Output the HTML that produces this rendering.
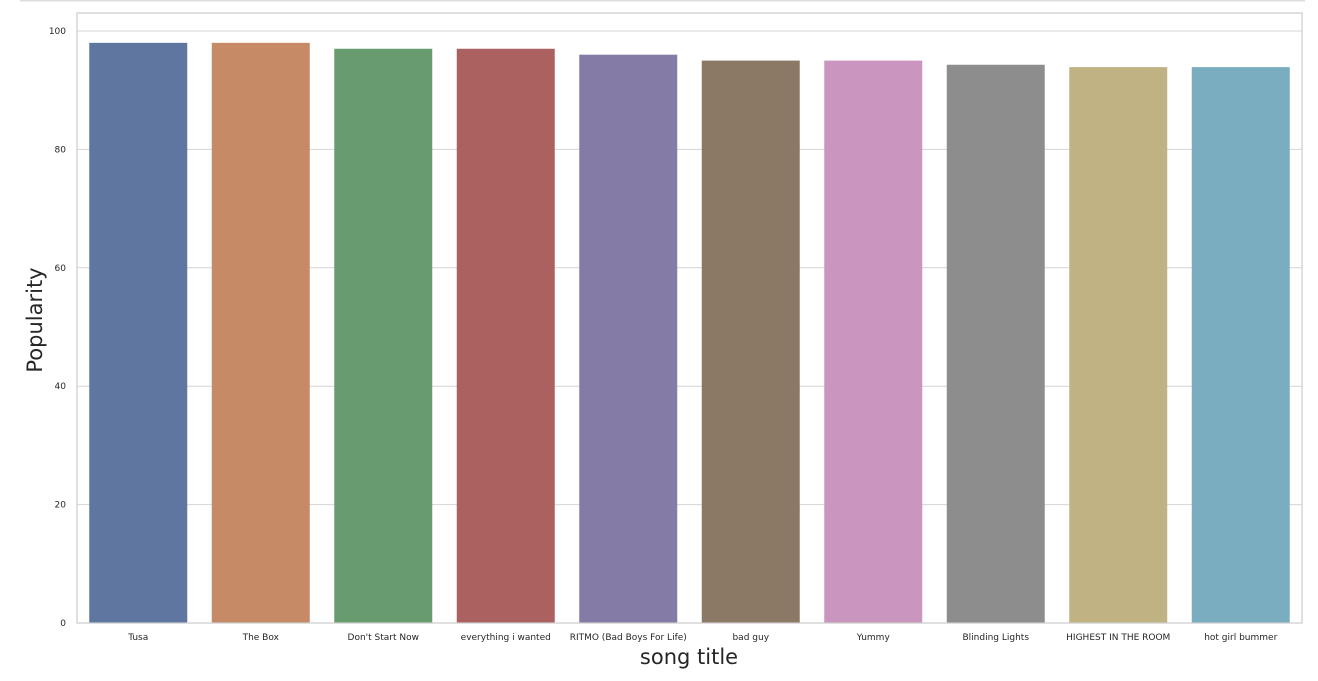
<!DOCTYPE html>
<html><head><meta charset="utf-8"><style>
body{margin:0;background:#fff;width:1318px;height:676px;overflow:hidden}
svg{font-family:"DejaVu Sans","Liberation Sans",sans-serif}
</style></head><body>
<svg width="1318" height="676">
<line x1="20" y1="0.5" x2="1305" y2="0.5" stroke="#ddd" stroke-width="2"/>
<g id="grid"></g><g id="bars"></g><g id="xt"></g><g id="yt"></g>
<rect x="77" y="13" width="1225" height="610" fill="none" stroke="#ccc" stroke-width="1.2"/>
<text x="689" y="664" font-size="21" fill="#262626" text-anchor="middle">song title</text>
<text transform="translate(42,320) rotate(-90)" font-size="21" fill="#262626" text-anchor="middle">Popularity</text>
</svg>
<script>
const categories=["Tusa","The Box","Don't Start Now","everything i wanted","RITMO (Bad Boys For Life)","bad guy","Yummy","Blinding Lights","HIGHEST IN THE ROOM","hot girl bummer"];
const values=[98,98,97,97,96,95,95,94.3,93.9,93.9];
const colors=["#5f76a1","#c68a66","#689c6f","#ac6161","#857ba7","#8b7966","#ca96bf","#8d8d8d","#c0b282","#7badc0"];
const yTicks=[0,20,40,60,80,100];
const X0=77,W=1225,Y0=623,Y100=31;
const y=v=>Y0-(Y0-Y100)*v/100;
const step=W/categories.length;
const ns="http://www.w3.org/2000/svg";
function mk(t,a,p){const e=document.createElementNS(ns,t);for(const k in a)e.setAttribute(k,a[k]);p.appendChild(e);return e;}
const g=document.getElementById('grid'),b=document.getElementById('bars'),xt=document.getElementById('xt'),yt=document.getElementById('yt');
yTicks.forEach(t=>{
 const l=mk('line',{x1:X0,x2:X0+W,y1:y(t),y2:y(t),stroke:'#d4d4d4','stroke-width':1},g);
 
 
 const tx=mk('text',{x:66,y:y(t)+3,'font-size':9,fill:'#262626','text-anchor':'end'},yt);
 tx.textContent=t;
 
 
});
categories.forEach((c,i)=>{
 const cx=X0+step*(i+0.5),bw=step*0.8;
 const r=mk('rect',{x:cx-bw/2,y:y(values[i]),width:bw,height:Y0-y(values[i]),fill:colors[i]},b);
 
 
 const tx=mk('text',{x:cx,y:640,'font-size':9,fill:'#262626','text-anchor':'middle'},xt);
 tx.textContent=c;
 
 
});
</script>
</body></html>
